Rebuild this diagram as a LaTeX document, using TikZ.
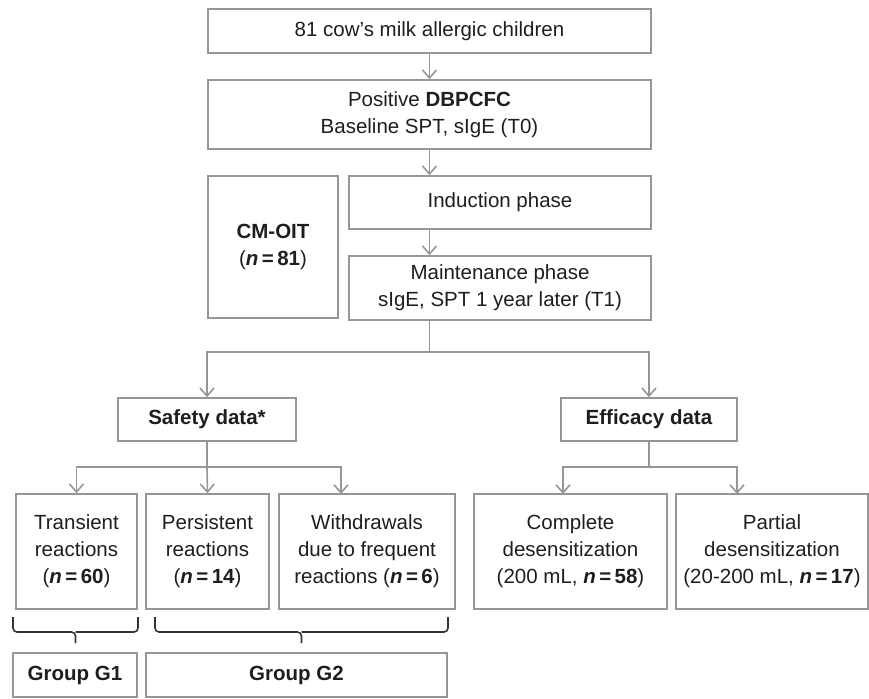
\documentclass[tikz,border=0pt]{standalone}
\usepackage{fontspec}
\setmainfont{Liberation Sans}
\usetikzlibrary{arrows.meta}
\definecolor{lineg}{RGB}{150,150,150}
\definecolor{txt}{RGB}{30,30,30}
\newcommand{\nb}[1]{\textbf{\textit{n}\,=\,#1}}
\begin{document}
\begin{tikzpicture}[x=1pt,y=-1pt,
  box/.style={draw=lineg,line width=1.6pt,inner sep=0pt,align=center,text=txt,
    font=\fontsize{20.5}{27}\selectfont},
  arr/.style={draw=lineg,line width=1.6pt,-{Straight Barb[length=8pt,width=14pt,line width=1.6pt]}},
  ln/.style={draw=lineg,line width=1.6pt},
  brc/.style={draw=black!80,line width=1.6pt,rounded corners=4pt}]
\useasboundingbox (0,0) rectangle (869,698);
\node[box,minimum width=443pt,minimum height=44pt] (b1) at (429.5,31) {81 cow's milk allergic children};
\node[box,minimum width=443pt,minimum height=69pt] (b2) at (429.5,114.5) {Positive \textbf{DBPCFC}\\Baseline SPT, sIgE (T0)};
\node[box,minimum width=130pt,minimum height=142pt] (cm) at (273,247) {\textbf{CM-OIT}\\(\nb{81})};
\node[box,minimum width=302pt,minimum height=53pt] (ind) at (500,202.5) {Induction phase};
\node[box,minimum width=302pt,minimum height=64pt] (mai) at (500,288) {Maintenance phase\\sIgE, SPT 1 year later (T1)};
\node[box,minimum width=178pt,minimum height=43pt] (saf) at (207,419.5) {\textbf{Safety data*}};
\node[box,minimum width=176pt,minimum height=43pt] (eff) at (649,419.5) {\textbf{Efficacy data}};
\node[box,minimum width=121pt,minimum height=115pt] (tra) at (76.5,551.5) {Transient\\reactions\\(\nb{60})};
\node[box,minimum width=123pt,minimum height=115pt] (per) at (207.5,551.5) {Persistent\\reactions\\(\nb{14})};
\node[box,minimum width=176pt,minimum height=115pt] (wit) at (367,551.5) {Withdrawals\\due to frequent\\reactions (\nb{6})};
\node[box,minimum width=193pt,minimum height=115pt] (com) at (570.5,551.5) {Complete\\desensitization\\(200 mL, \nb{58})};
\node[box,minimum width=192pt,minimum height=115pt] (par) at (772,551.5) {Partial\\desensitization\\(20-200 mL, \nb{17})};
\node[box,minimum width=124pt,minimum height=44pt] (g1) at (75,675) {\textbf{Group G1}};
\node[box,minimum width=301pt,minimum height=44pt] (g2) at (296.5,675) {\textbf{Group G2}};
% connectors
\draw[arr] (b1.south) -- (b2.north);
\draw[arr] (b2.south) -- (b2.south |- ind.north);
\draw[arr] (b2.south |- ind.south) -- (b2.south |- mai.north);
\coordinate (m1) at (429.5,352);
\draw[ln] (b2.south |- mai.south) -- (m1);
\draw[arr] (m1) -| (saf.north);
\draw[arr] (m1) -| (eff.north);
\coordinate (s1) at (207,467);
\draw[ln] (saf.south) -- (saf.south |- s1);
\draw[arr] (saf.south |- s1) -| (tra.north);
\draw[arr] (saf.south |- s1) -- (per.north);
\draw[arr] (saf.south |- s1) -| (341,494) coordinate (witn);
\coordinate (e1) at (649,467);
\draw[ln] (eff.south) -- (e1);
\draw[arr] (e1) -| (563,494) coordinate (comn);
\draw[arr] (e1) -| (737,494) coordinate (parn);
% braces
\draw[brc] (13,617) -- (13,632) -- (75.5,632) -- (75.5,643);
\draw[brc] (75.5,632) -- (138,632) -- (138,617);
\draw[brc] (155,617) -- (155,632) -- (301.5,632) -- (301.5,643);
\draw[brc] (301.5,632) -- (448,632) -- (448,617);
\end{tikzpicture}
\end{document}
